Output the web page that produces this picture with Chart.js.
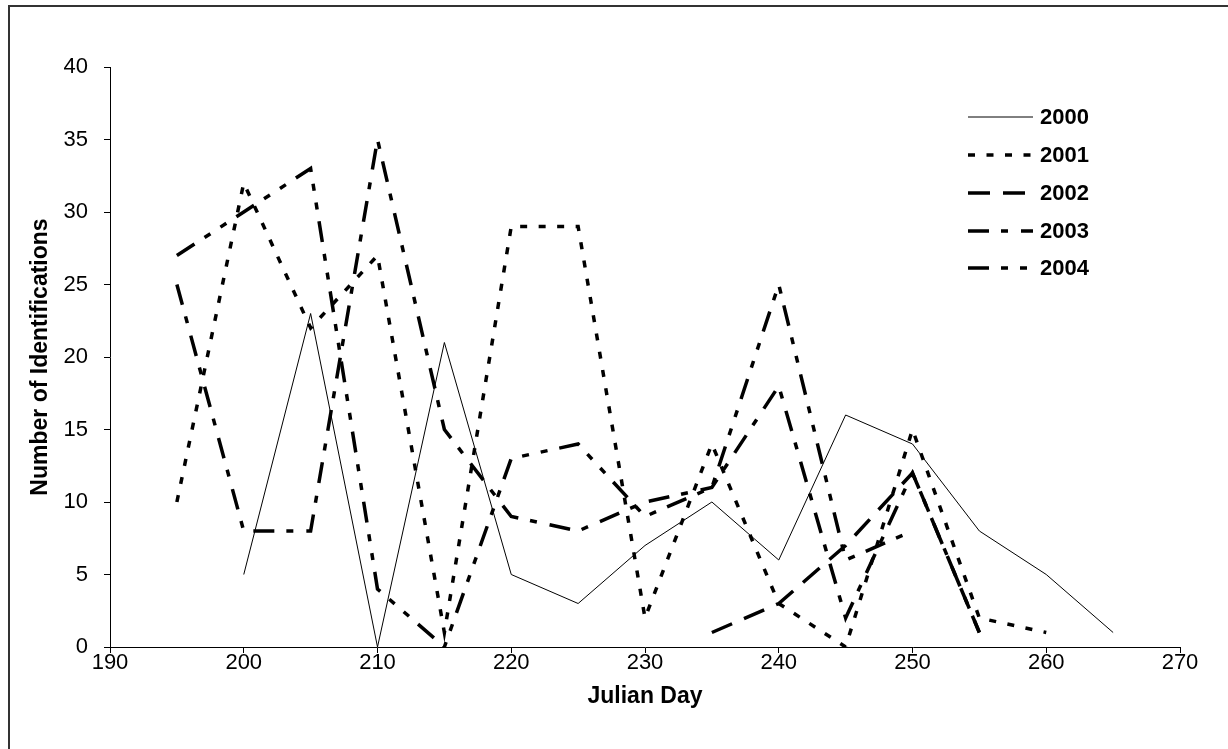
<!DOCTYPE html>
<html>
<head>
<meta charset="utf-8">
<script src="https://cdn.jsdelivr.net/npm/chart.js@4.4.1/dist/chart.umd.min.js"></script>
<style>
  html, body { margin: 0; padding: 0; background: #fff; }
  #frame {
    position: absolute; left: 8px; top: 5px;
    width: 1400px; height: 900px;
    border: 2px solid #333;
  }
  #wrap { position: absolute; left: 0; top: 0; width: 1228px; height: 749px; }
</style>
</head>
<body>
<div id="frame"></div>
<div id="wrap"><canvas id="idChart"></canvas></div>
<script>
// Julian days sampled every 5 days
const days = [195, 200, 205, 210, 215, 220, 225, 230, 235, 240, 245, 250, 255, 260, 265];

// identifications per year (null = no sample)
const y2000 = [null, 5, 23, 0, 21, 5, 3, 7, 10, 6, 16, 14, 8, 5, 1];
const y2001 = [10, 32, 22, 27, 1, 29, 29, 2, 14, 3, 0, 15, 2, 1, null];
const y2002 = [null, null, null, null, null, null, null, null, 1, 3, 7, 12, 1, null, null];
const y2003 = [25, 8, 8, 35, 15, 9, 8, 10, 11, 18, 2, 12, 1, null, null];
const y2004 = [27, 30, 33, 4, 0, 13, 14, 9, 11, 25, 6, 8, null, null, null];

const xTicks = [190, 200, 210, 220, 230, 240, 250, 260, 270];
const yTicks = [0, 5, 10, 15, 20, 25, 30, 35, 40];

const FONT = "'Liberation Sans', Arial, sans-serif";

function toPoints(vals) {
  const pts = [];
  vals.forEach((v, i) => {
    if (v !== null) pts.push({ x: days[i], y: v });
  });
  return pts;
}

function series(label, vals, width, dash) {
  return {
    label: label,
    data: toPoints(vals),
    borderColor: "#000",
    borderWidth: width,
    borderDash: dash,
    borderCapStyle: "butt",
    borderJoinStyle: "miter",
    pointRadius: 0,
    tension: 0,
    fill: false,
  };
}

// legend drawn inside the plot, top right
const legendInside = {
  id: "legendInside",
  afterDraw(chart) {
    const ctx = chart.ctx;
    const rowY = [117, 155, 193, 231, 268];
    ctx.save();
    chart.data.datasets.forEach((ds, i) => {
      const y = rowY[i];
      ctx.beginPath();
      ctx.setLineDash(ds.borderDash || []);
      ctx.lineWidth = ds.borderWidth;
      ctx.lineCap = "butt";
      ctx.strokeStyle = "#000";
      ctx.moveTo(968, y);
      ctx.lineTo(1033, y);
      ctx.stroke();
      ctx.setLineDash([]);
      ctx.fillStyle = "#000";
      ctx.font = "bold 22px " + FONT;
      ctx.textBaseline = "middle";
      ctx.textAlign = "left";
      ctx.fillText(ds.label, 1040, y + 1);
    });
    ctx.restore();
  },
};

const ctx = document.getElementById("idChart").getContext("2d");
const idChart = new Chart(ctx, {
  type: "line",
  data: {
    datasets: [
      series("2000", y2000, 1, []),
      series("2001", y2001, 3.5, [7, 11.5]),
      series("2002", y2002, 3.5, [22, 13]),
      series("2003", y2003, 3.5, [21, 12, 7, 13]),
      series("2004", y2004, 3.5, [21, 12, 7, 12, 7, 12]),
    ],
  },
  options: {
    responsive: true,
    maintainAspectRatio: false,
    devicePixelRatio: 1,
    animation: false,
    layout: { padding: { left: 0, top: 67, right: 48, bottom: 0 } },
    plugins: {
      legend: { display: false },
      tooltip: { enabled: false },
    },
    scales: {
      x: {
        type: "linear",
        min: 190,
        max: 270,
        afterBuildTicks: (scale) => {
          scale.ticks = xTicks.map((v) => ({ value: v }));
        },
        afterFit: (scale) => {
          scale.height = 102;
        },
        grid: { drawOnChartArea: false, drawTicks: true, tickLength: 6, color: "#000" },
        border: { display: true, color: "#000", width: 1 },
        ticks: {
          color: "#000",
          font: { family: FONT, size: 22 },
          padding: -3,
          maxRotation: 0,
        },
        title: {
          display: true,
          text: "Julian Day",
          color: "#000",
          font: { family: FONT, size: 23, weight: "bold" },
          padding: { top: 0, bottom: 39 },
        },
      },
      y: {
        min: 0,
        max: 40,
        afterBuildTicks: (scale) => {
          scale.ticks = yTicks.map((v) => ({ value: v }));
        },
        afterFit: (scale) => {
          scale.width = 110;
        },
        grid: { drawOnChartArea: false, drawTicks: true, tickLength: 6, color: "#000" },
        border: { display: true, color: "#000", width: 1 },
        ticks: {
          color: "#000",
          font: { family: FONT, size: 22 },
          padding: 16,
        },
        title: {
          display: true,
          text: "Number of Identifications",
          color: "#000",
          font: { family: FONT, size: 23, weight: "bold" },
          padding: { top: 27, bottom: 0 },
        },
      },
    },
  },
  plugins: [legendInside],
});
</script>
</body>
</html>
